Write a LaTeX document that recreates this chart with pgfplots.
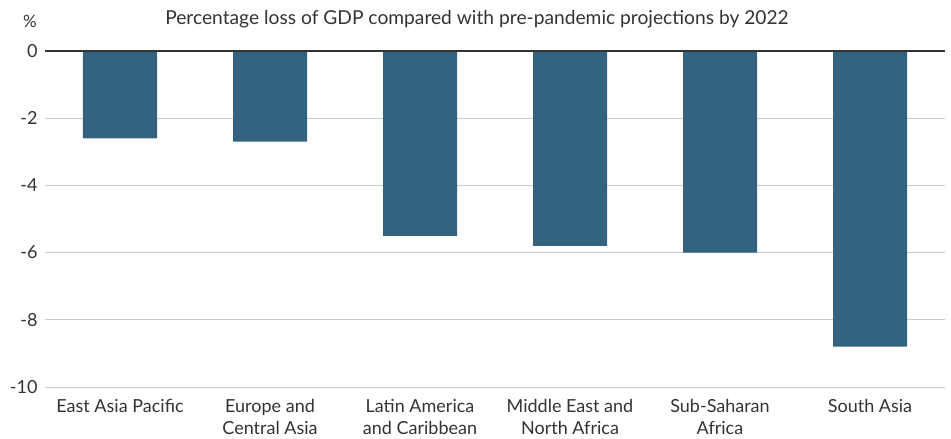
\documentclass[border=0pt]{standalone}
\usepackage{pgfplots}
\pgfplotsset{compat=1.18}
\usepackage{fontspec}
\setmainfont{Lato}
\definecolor{barc}{HTML}{346380}
\definecolor{txt}{HTML}{333333}
\definecolor{gridc}{HTML}{C8CCD0}
\begin{document}
\begin{tikzpicture}[x=1pt,y=1pt]
\begin{axis}[
  scale only axis,
  width=900pt, height=336pt,
  at={(0,0)}, anchor=south west,
  xmin=-0.5, xmax=5.5,
  ymin=-10, ymax=0,
  axis line style={draw=none},
  ytick={-10,-8,-6,-4,-2,0},
  xtick={0,1,2,3,4,5},
  xticklabels={East Asia Pacific,{Europe and\\Central Asia},{Latin America\\and Caribbean},{Middle East and\\North Africa},{Sub-Saharan\\Africa},South Asia},
  xticklabel style={align=center, font=\fontsize{18}{22}\selectfont, text=txt, anchor=north, yshift=-9pt},
  yticklabel style={font=\fontsize{18}{20}\selectfont, text=txt, xshift=-4pt},
  /pgf/number format/assume math mode=true,
  major tick length=0pt,
  ymajorgrids, grid style={draw=gridc, line width=0.8pt},
  clip=false,
]
\addplot[ybar, bar width=74pt, fill=barc, draw=none] coordinates {
 (0,-2.6) (1,-2.7) (2,-5.5) (3,-5.8) (4,-6.0) (5,-8.8)};
\draw[txt, line width=1.2pt] (axis cs:-0.5,0) -- (axis cs:5.5,0);
\end{axis}
\node[font=\fontsize{19.2}{21}\selectfont, text=txt] at (432pt,368pt) {Percentage loss of GDP compared with pre-pandemic projections by 2022};
\node[font=\fontsize{17}{20}\selectfont, text=txt] at (-15pt,366pt) {\%};
\path[use as bounding box] (-45pt,-50pt) rectangle (906pt,387pt);
\end{tikzpicture}
\end{document}
